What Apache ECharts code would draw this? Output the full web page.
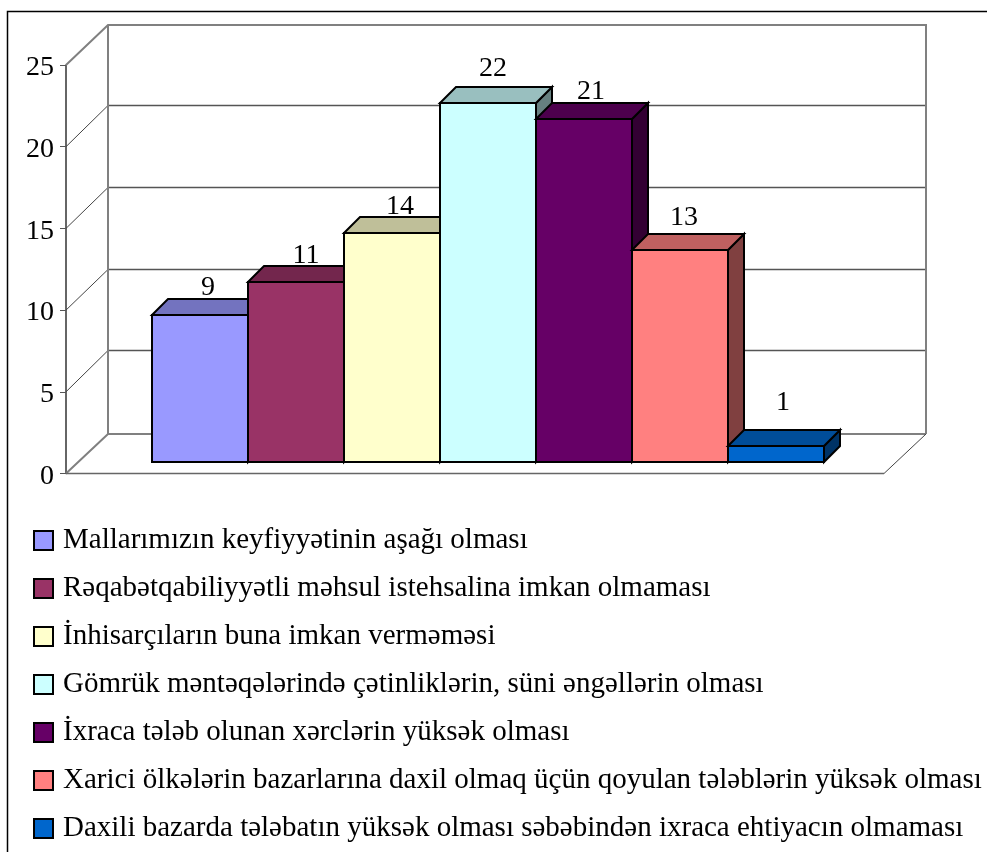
<!DOCTYPE html>
<html>
<head>
<meta charset="utf-8">
<style>html,body{margin:0;padding:0;background:#fff}#main{width:987px;height:852px}</style>
<script src="https://cdn.jsdelivr.net/npm/echarts@6/dist/echarts.min.js"></script>
</head>
<body>
<div id="main"></div>
<script>
var names = [
	'Mallarımızın keyfiyyətinin aşağı olması',
	'Rəqabətqabiliyyətli məhsul istehsalina imkan olmaması',
	'İnhisarçıların buna imkan verməməsi',
	'Gömrük məntəqələrində çətinliklərin, süni əngəllərin olması',
	'İxraca tələb olunan xərclərin yüksək olması',
	'Xarici ölkələrin bazarlarına daxil olmaq üçün qoyulan tələblərin yüksək olması',
	'Daxili bazarda tələbatın yüksək olması səbəbindən ixraca ehtiyacın olmaması'
];
var values = [9, 11, 14, 22, 21, 13, 1];
var colors = ['#9999FF', '#993366', '#FFFFCC', '#CCFFFF', '#660066', '#FF8080', '#0066CC'];
var yTicks = [0, 5, 10, 15, 20, 25];

// 3D look: how far the walls and bars are pushed back, in px
var WALL_DX = 42, WALL_DY = 40;
var BAR_FRONT = 11.5, BAR_DEPTH = 16;
var SERIF = '"Liberation Serif","Times New Roman",serif';
// the labels in the picture do not sit at a constant spot over the bars
var labelShift = [[8, -27], [10, -26], [8, -26], [5, -34], [7, -27], [4, -32], [7, -43]];

function poly(points, fill) {
	return {
		type: 'polygon',
		shape: {points: points},
		style: {fill: fill, stroke: '#000', lineWidth: 2, lineJoin: 'miter'}
	};
}
function line(points, color, width) {
	return {
		type: 'polyline',
		shape: {points: points},
		style: {fill: null, stroke: color, lineWidth: width}
	};
}
// k = 1 keeps the colour, k = 0 is black
function shade(c, k) {
	return echarts.color.lerp(k, ['#000000', c]);
}

// back walls and floor
function renderWalls(params, api) {
	var kids = [];
	var x0 = 66, x1 = 884;
	var top = api.coord([0, 25])[1], bottom = api.coord([0, 0])[1];
	var backTop = top - WALL_DY, backBottom = bottom - WALL_DY + 0.5;
	yTicks.forEach(function (t) {
		if (t === 0 || t === 25) return;
		var y = api.coord([0, t])[1];
		var by = Math.floor(y - WALL_DY - 1) + 0.5;
		kids.push(line([[x0, y], [x0 + WALL_DX, by]], '#444', 1));
		kids.push(line([[x0 + WALL_DX, by], [x1 + WALL_DX, by]], '#555', 1.5));
	});
	// the outline goes over the grid lines
	kids.push(line([[x0, top], [x0 + WALL_DX, backTop], [x1 + WALL_DX, backTop], [x1 + WALL_DX, backBottom]], '#808080', 2));
	kids.push(line([[x0 + WALL_DX, backTop], [x0 + WALL_DX, backBottom]], '#808080', 2));
	kids.push(line([[x0, bottom], [x0 + WALL_DX, backBottom], [x1 + WALL_DX, backBottom]], '#808080', 2));
	kids.push(line([[x0, bottom], [x1, bottom]], '#666', 1.5));
	kids.push(line([[x1, bottom], [x1 + WALL_DX, backBottom]], '#444', 1));
	return {type: 'group', children: kids};
}

function renderBar(params, api) {
	var i = api.value(0), v = api.value(1);
	var w = api.size([1, 0])[0];
	var base = api.coord([i, 0]);
	var head = api.coord([i, v]);
	var l = base[0] - w / 2 + BAR_FRONT, r = l + w;
	var yb = Math.round(base[1] - BAR_FRONT), yt = Math.round(head[1] - BAR_FRONT);
	var d = BAR_DEPTH;
	var c = colors[i];
	return {
		type: 'group',
		children: [
			poly([[r, yt], [r + d, yt - d], [r + d, yb - d], [r, yb]], shade(c, 0.5)),
			poly([[l, yt], [l + d, yt - d], [r + d, yt - d], [r, yt]], shade(c, 0.75)),
			poly([[l, yt], [r, yt], [r, yb], [l, yb]], c),
			{
				type: 'text',
				style: {
					x: (l + r) / 2 + labelShift[i][0],
					y: yt + labelShift[i][1],
					text: String(v),
					fill: '#000',
					font: '28px ' + SERIF,
					align: 'center',
					verticalAlign: 'middle'
				}
			}
		]
	};
}

var series = [{
	type: 'custom',
	renderItem: renderWalls,
	data: [[0, 0]],
	silent: true,
	z: 1
}];
names.forEach(function (n, i) {
	series.push({
		name: n,
		type: 'custom',
		renderItem: renderBar,
		itemStyle: {color: colors[i]},
		data: [[i, values[i]]],
		encode: {x: 0, y: 1},
		z: 2 + i
	});
});

var chart = echarts.init(document.getElementById('main'), null, {renderer: 'canvas'});
chart.setOption({
	animation: false,
	backgroundColor: '#fff',
	// frame runs off the picture on the right and at the bottom
	graphic: [{
		type: 'rect',
		shape: {x: 7.5, y: 11.5, width: 1100, height: 900},
		style: {fill: null, stroke: '#000', lineWidth: 1.5},
		z: 0
	}],
	grid: {left: 140.5, top: 65, width: 672, height: 408.5},
	xAxis: {type: 'category', data: names, show: false},
	yAxis: {
		type: 'value',
		min: 0,
		max: 25,
		interval: 5,
		offset: 74.5,
		splitLine: {show: false},
		axisLine: {show: true, lineStyle: {color: '#333', width: 1.5}},
		axisTick: {show: true, length: 6, lineStyle: {color: '#555', width: 1}},
		axisLabel: {
			margin: 12,
			formatter: '{n|{value}}',
			rich: {n: {color: '#000', fontSize: 28, fontFamily: SERIF, padding: [6, 0, 0, 0]}}
		}
	},
	legend: {
		orient: 'vertical',
		left: 33,
		top: 526,
		padding: 0,
		data: names,
		icon: 'rect',
		itemWidth: 19,
		itemHeight: 19,
		itemGap: 19,
		itemStyle: {borderColor: '#000', borderWidth: 2},
		selectedMode: false,
		textStyle: {color: '#000', fontSize: 29, fontFamily: SERIF, padding: [0, 0, 0, 5]}
	},
	series: series
});
</script>
</body>
</html>
